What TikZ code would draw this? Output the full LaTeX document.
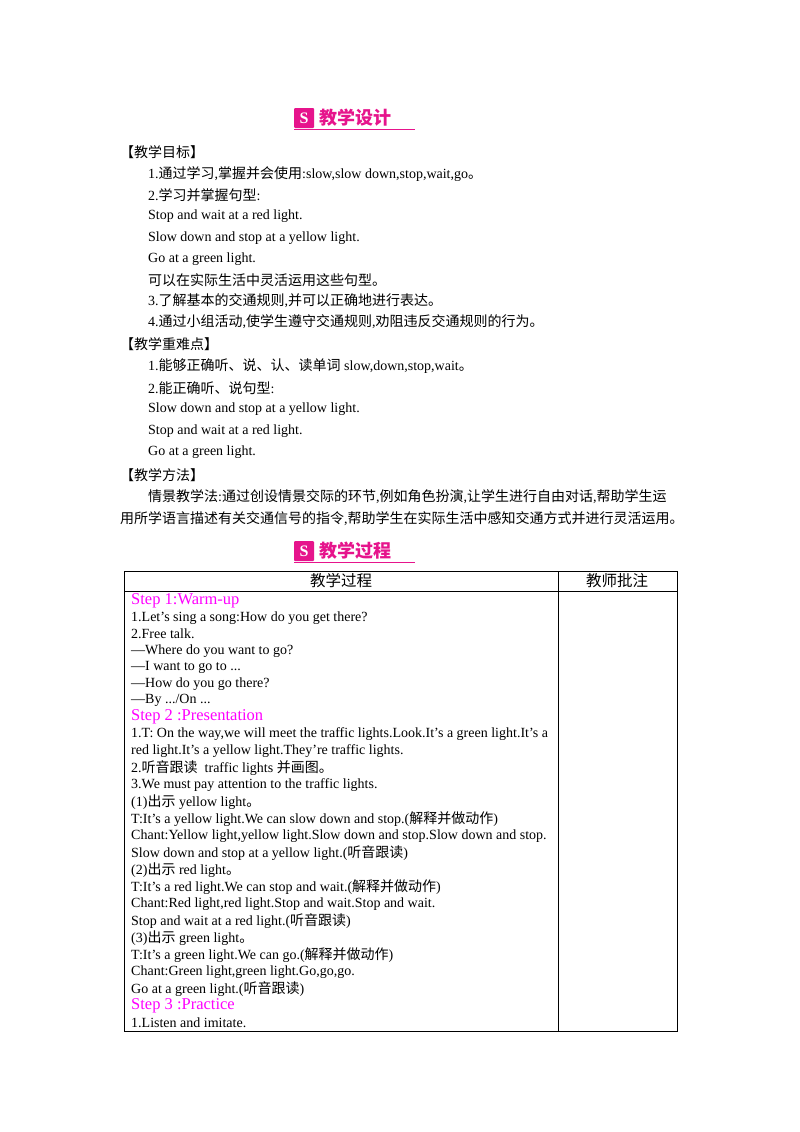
\documentclass[tikz,border=0pt]{standalone}
\usepackage{fontspec}
\setmainfont{Liberation Serif}
\newfontfamily\cjk{Noto Sans CJK SC}
\newcommand{\zh}[1]{{\cjk #1}}
\definecolor{mag}{RGB}{230,20,140}
\definecolor{stp}{RGB}{255,0,255}
\begin{document}
\begin{tikzpicture}[x=1pt,y=-1pt,
  t/.style={anchor=west,inner sep=0pt,font=\fontsize{14}{16}\selectfont},
  tb/.style={anchor=west,inner sep=0pt,font=\fontsize{14}{16}\selectfont},
  st/.style={anchor=west,inner sep=0pt,text=stp,font=\fontsize{16.5}{18}\selectfont},
  hd/.style={anchor=west,inner sep=0pt,text=mag,font=\cjk\bfseries\fontsize{18}{19}\selectfont}]
\useasboundingbox[fill=white] (0,0) rectangle (800,1132);
% headers
\foreach \yy/\txt/\nm in {118/教学设计/h1, 551/教学过程/h2}{
  \fill[mag,rounded corners=1pt] (294,\yy-10) rectangle (314,\yy+10);
  \node[text=white,font=\bfseries\fontsize{16}{16}\selectfont,inner sep=0pt] at (304,\yy) {S};
  \node[hd] (\nm) at (319,\yy) {\txt};
  \draw[mag,line width=0.8pt] (294,\yy+11) -- (415,\yy+11);
}
\node[t] (a1) at (120,152) {\zh{【教学目标】}};
\node[t] (a2) at (148,174) {1.\zh{通过学习},\zh{掌握并会使用}:slow,slow down,stop,wait,go\zh{。}};
\node[t] (a3) at (148,195) {2.\zh{学习并掌握句型}:};
\node[t] (a4) at (148,216) {Stop and wait at a red light.};
\node[t] (a5) at (148,238) {Slow down and stop at a yellow light.};
\node[t] (a6) at (148,259) {Go at a green light.};
\node[t] (a7) at (148,280) {\zh{可以在实际生活中灵活运用这些句型。}};
\node[t] (a8) at (148,301) {3.\zh{了解基本的交通规则},\zh{并可以正确地进行表达。}};
\node[t] (a9) at (148,322) {4.\zh{通过小组活动},\zh{使学生遵守交通规则},\zh{劝阻违反交通规则的行为。}};
\node[t] (b1) at (120,344) {\zh{【教学重难点】}};
\node[t] (b2) at (148,366) {1.\zh{能够正确听、说、认、读单词} slow,down,stop,wait\zh{。}};
\node[t] (b3) at (148,388) {2.\zh{能正确听、说句型}:};
\node[t] (b4) at (148,409) {Slow down and stop at a yellow light.};
\node[t] (b5) at (148,431) {Stop and wait at a red light.};
\node[t] (b6) at (148,452) {Go at a green light.};
\node[t] (c1) at (120,475) {\zh{【教学方法】}};
\node[t] (c2) at (148,497) {\zh{情景教学法}:\zh{通过创设情景交际的环节},\zh{例如角色扮演},\zh{让学生进行自由对话},\zh{帮助学生运}};
\node[t] (c3) at (120,519) {\zh{用所学语言描述有关交通信号的指令},\zh{帮助学生在实际生活中感知交通方式并进行灵活运用。}};
% table
\draw[line width=0.8pt] (124,571) rectangle (677,1031);
\draw[line width=0.6pt] (124,591) -- (677,591);
\draw[line width=0.6pt] (558,571) -- (558,1031);
\node[font=\cjk\fontsize{15.5}{17}\selectfont,inner sep=0pt] (th1) at (341,581) {教学过程};
\node[font=\cjk\fontsize{15.5}{17}\selectfont,inner sep=0pt] (th2) at (617,581) {教师批注};
\node[st] (s1) at (131,601) {Step 1:Warm-up};
\node[tb] (l1) at (131,618) {1.Let's sing a song:How do you get there?};
\node[tb] (l2) at (131,634) {2.Free talk.};
\node[tb] (l3) at (131,651) {—Where do you want to go?};
\node[tb] (l4) at (131,667) {—I want to go to ...};
\node[tb] (l5) at (131,684) {—How do you go there?};
\node[tb] (l6) at (131,700) {—By .../On ...};
\node[st] (s2) at (131,717) {Step 2 :Presentation};
\node[tb] (m1) at (131,734) {1.T: On the way,we will meet the traffic lights.Look.It's a green light.It's a};
\node[tb] (m2) at (131,751) {red light.It's a yellow light.They're traffic lights.};
\node[tb] (m3) at (131,768) {2.\zh{听音跟读}\ \ traffic lights \zh{并画图。}};
\node[tb] (m4) at (131,785) {3.We must pay attention to the traffic lights.};
\node[tb] (m5) at (131,802) {(1)\zh{出示} yellow light\zh{。}};
\node[tb] (m6) at (131,819) {T:It's a yellow light.We can slow down and stop.(\zh{解释并做动作})};
\node[tb] (m7) at (131,836) {Chant:Yellow light,yellow light.Slow down and stop.Slow down and stop.};
\node[tb] (m8) at (131,853) {Slow down and stop at a yellow light.(\zh{听音跟读})};
\node[tb] (m9) at (131,870) {(2)\zh{出示} red light\zh{。}};
\node[tb] (m10) at (131,887) {T:It's a red light.We can stop and wait.(\zh{解释并做动作})};
\node[tb] (m11) at (131,904) {Chant:Red light,red light.Stop and wait.Stop and wait.};
\node[tb] (m12) at (131,921) {Stop and wait at a red light.(\zh{听音跟读})};
\node[tb] (m13) at (131,938) {(3)\zh{出示} green light\zh{。}};
\node[tb] (m14) at (131,955) {T:It's a green light.We can go.(\zh{解释并做动作})};
\node[tb] (m15) at (131,972) {Chant:Green light,green light.Go,go,go.};
\node[tb] (m16) at (131,989) {Go at a green light.(\zh{听音跟读})};
\node[st] (s3) at (131,1006) {Step 3 :Practice};
\node[tb] (p1) at (131,1023) {1.Listen and imitate.};
\end{tikzpicture}
\end{document}
